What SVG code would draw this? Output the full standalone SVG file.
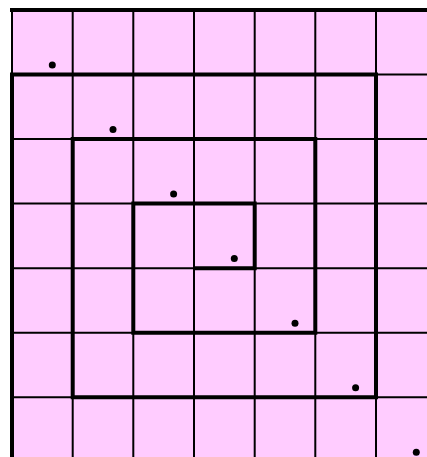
<svg xmlns="http://www.w3.org/2000/svg" width="427" height="457" viewBox="0 0 427 457">
<style>
.thin{stroke:#000;stroke-width:2;fill:none}
.thick{stroke:#000;stroke-width:4;fill:none;stroke-linejoin:miter}
.dot{fill:#000}
</style>
<rect x="0" y="0" width="427" height="457" fill="#fff"/>
<rect x="12" y="10" width="415" height="447" fill="#FFCCFF"/>
<g id="grid" class="thin">
<path d="M12,10V457M72.7,10V457M133.3,10V457M194,10V457M254.7,10V457M315.3,10V457M376,10V457"/>
<path d="M12,74.5H427M12,139.1H427M12,203.6H427M12,268.2H427M12,332.7H427M12,397.3H427"/>
</g>
<g id="spiral" class="thick">
<path d="M10,10H427"/>
<path d="M12,457V74.5H376V397.3H72.7V139.1H315.3V332.7H133.3V203.6H254.7V268.2H194"/>
</g>
<g id="dots" class="dot">
<circle cx="52.3" cy="65" r="3.5"/>
<circle cx="113" cy="129.5" r="3.5"/>
<circle cx="173.6" cy="194.1" r="3.5"/>
<circle cx="234.3" cy="258.6" r="3.5"/>
<circle cx="295" cy="323.2" r="3.5"/>
<circle cx="355.6" cy="387.7" r="3.5"/>
<circle cx="416.3" cy="452.3" r="3.5"/>
</g>
</svg>
